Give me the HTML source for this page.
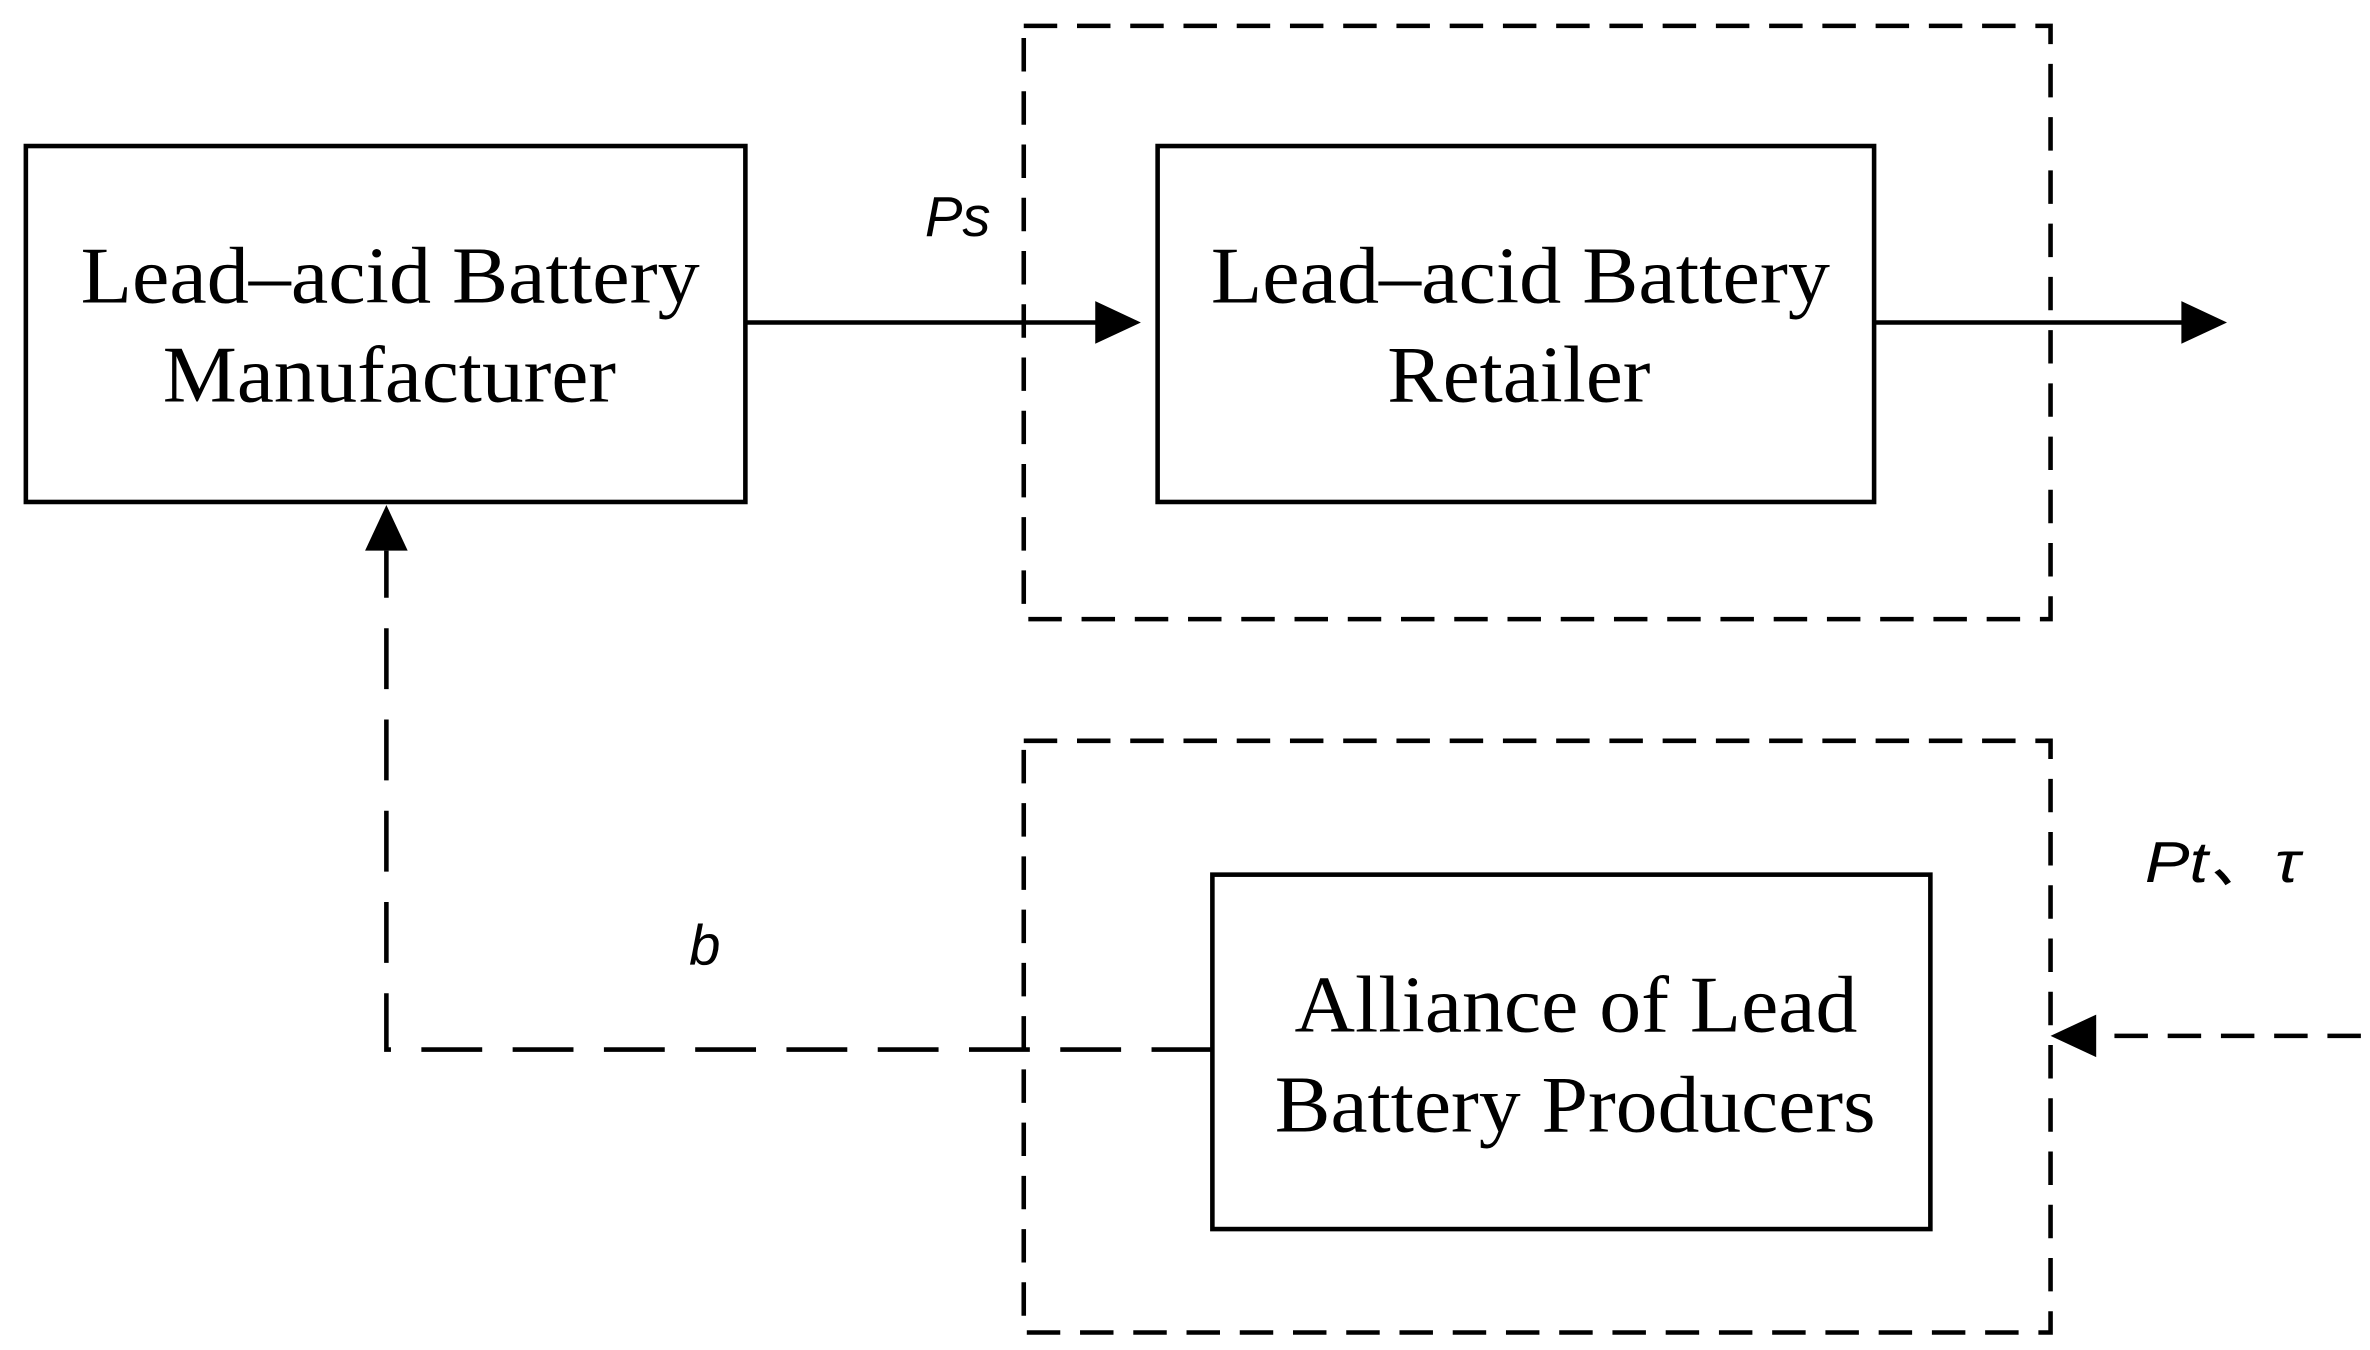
<!DOCTYPE html>
<html><head><meta charset="utf-8"><style>
html,body{margin:0;padding:0;background:#fff;}
svg{display:block;}
text{font-family:"Liberation Serif",serif;fill:#000;}
.it{font-family:"Liberation Sans","Noto Sans CJK SC",sans-serif;font-style:italic;}
</style></head><body>
<svg width="2370" height="1350" viewBox="0 0 1558 887.5" preserveAspectRatio="none" xmlns="http://www.w3.org/2000/svg">
<g fill="none" stroke="#000" stroke-width="3">
<rect x="17" y="96" width="473" height="234"/>
<rect x="761" y="96" width="471" height="234"/>
<rect x="797" y="575" width="472" height="233"/>
<g stroke-dasharray="22,13">
<rect x="673" y="17" width="675" height="390"/>
<rect x="673" y="487" width="675" height="389"/>
</g>
<line x1="490" y1="212" x2="725" y2="212"/>
<line x1="1232" y1="212" x2="1438" y2="212"/>
<polyline points="797,690 254,690 254,362" stroke-dasharray="40,20"/>
<line x1="1552" y1="681" x2="1376" y2="681" stroke-dasharray="22,13"/>
</g>
<polygon points="750,212 720,198 720,226" fill="#000"/>
<polygon points="1464,212 1434,198 1434,226" fill="#000"/>
<polygon points="254,332 240,362 268,362" fill="#000"/>
<polygon points="1348,681 1378,667 1378,695" fill="#000"/>
<g font-size="53" lengthAdjust="spacingAndGlyphs">
<text x="53" y="199" textLength="407" lengthAdjust="spacingAndGlyphs">Lead–acid Battery</text>
<text x="107" y="264" textLength="298" lengthAdjust="spacingAndGlyphs">Manufacturer</text>
<text x="796" y="199" textLength="407" lengthAdjust="spacingAndGlyphs">Lead–acid Battery</text>
<text x="912" y="264" textLength="173" lengthAdjust="spacingAndGlyphs">Retailer</text>
<text x="851" y="678" textLength="370" lengthAdjust="spacingAndGlyphs">Alliance of Lead</text>
<text x="838" y="744" textLength="395" lengthAdjust="spacingAndGlyphs">Battery Producers</text>
</g>
<text class="it" x="608" y="155" font-size="37">Ps</text>
<text class="it" x="453" y="634" font-size="37">b</text>
<text class="it" x="1410" y="580" font-size="38" textLength="102" lengthAdjust="spacingAndGlyphs">Pt、τ</text>
</svg>
</body></html>
